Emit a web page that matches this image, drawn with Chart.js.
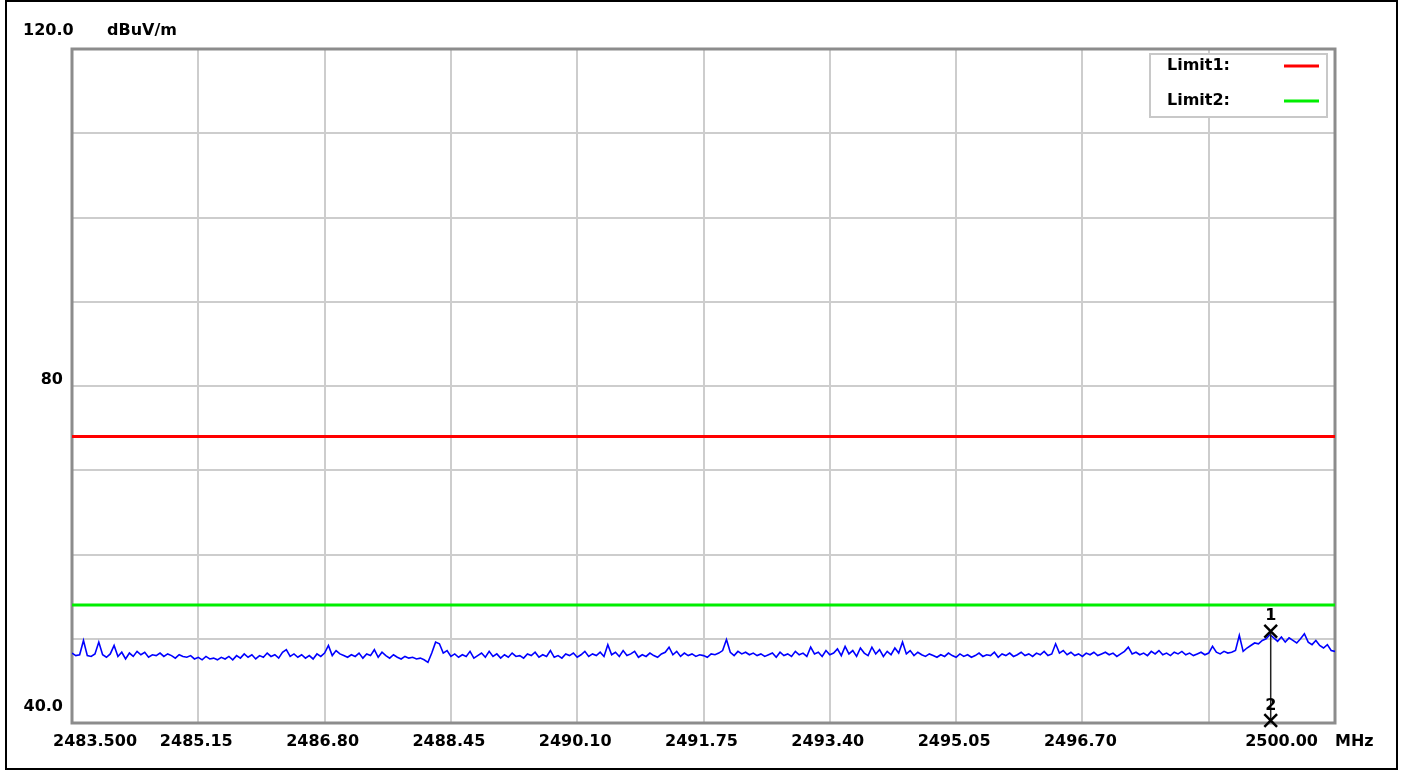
<!DOCTYPE html>
<html><head><meta charset="utf-8">
<script src="https://cdn.jsdelivr.net/npm/chart.js@4.4.0/dist/chart.umd.min.js"></script>
<style>html,body{margin:0;padding:0;background:#fff;}canvas{display:block;}</style>
</head><body><canvas id="c" width="1401" height="771"></canvas>
<script>
// ---- data ----
const freqStart = 2483.5;
const freqStop = 2500.0;
const traceLevel = [
48.3,48.0,48.1,49.8,48.0,47.9,48.2,49.6,48.1,47.8,
48.2,49.2,47.9,48.4,47.6,48.3,47.9,48.5,48.1,48.4,
47.8,48.1,48.0,48.3,47.9,48.2,48.0,47.7,48.1,47.9,
47.8,48.0,47.6,47.8,47.5,47.9,47.6,47.7,47.5,47.8,
47.6,47.9,47.5,48.0,47.7,48.2,47.8,48.1,47.6,48.0,
47.8,48.3,47.9,48.1,47.7,48.4,48.7,47.9,48.2,47.8,
48.1,47.7,48.0,47.6,48.2,47.9,48.3,49.2,48.0,48.6,
48.2,48.0,47.8,48.1,47.9,48.3,47.7,48.2,48.0,48.7,
47.8,48.4,48.0,47.7,48.1,47.8,47.6,47.9,47.7,47.8,
47.6,47.7,47.5,47.2,48.3,49.6,49.4,48.3,48.6,47.9,
48.2,47.8,48.1,47.9,48.5,47.7,48.0,48.3,47.8,48.5,
47.9,48.2,47.7,48.1,47.8,48.3,47.9,48.0,47.7,48.2,
48.0,48.4,47.8,48.1,47.9,48.6,47.8,48.0,47.7,48.2,
48.0,48.3,47.8,48.1,48.5,47.9,48.2,48.0,48.4,47.9,
49.3,48.1,48.4,47.9,48.6,48.0,48.2,48.5,47.8,48.1,
47.9,48.3,48.0,47.8,48.2,48.4,49.0,48.1,48.5,47.9,
48.3,48.0,48.2,47.9,48.1,48.0,47.8,48.2,48.1,48.3,
48.6,49.9,48.4,48.0,48.5,48.2,48.4,48.1,48.3,48.0,
48.2,47.9,48.1,48.3,47.8,48.4,48.0,48.2,47.9,48.5,
48.1,48.3,47.9,49.0,48.2,48.4,47.9,48.6,48.1,48.3,
48.8,48.0,49.1,48.2,48.6,47.9,48.9,48.3,48.0,49.0,
48.2,48.7,47.9,48.5,48.1,48.9,48.3,49.6,48.2,48.6,
48.0,48.4,48.1,47.9,48.2,48.0,47.8,48.1,47.9,48.3,
48.0,47.8,48.2,47.9,48.1,47.8,48.0,48.3,47.9,48.1,
48.0,48.4,47.8,48.2,48.0,48.3,47.9,48.1,48.4,48.0,
48.2,47.9,48.3,48.1,48.5,48.0,48.2,49.4,48.3,48.6,
48.1,48.4,48.0,48.2,47.9,48.3,48.1,48.4,48.0,48.2,
48.4,48.1,48.3,47.9,48.2,48.5,49.0,48.2,48.4,48.1,
48.3,48.0,48.5,48.2,48.6,48.1,48.3,48.0,48.4,48.2,
48.5,48.1,48.3,48.0,48.2,48.4,48.1,48.3,49.1,48.4,
48.2,48.5,48.3,48.4,48.6,50.4,48.5,48.9,49.2,49.5,
49.4,49.8,50.0,50.5,50.1,49.7,50.2,49.6,50.1,49.8,
49.5,50.0,50.6,49.6,49.3,49.8,49.2,48.9,49.3,48.6,
48.5
];
const limit1Level = 74;
const limit2Level = 54;
const markerFreq = 2499.16;
const markerLevels = [50.9, 40.3];
const markerNames = ['1', '2'];
const xTickValues = [2483.5, 2485.15, 2486.8, 2488.45, 2490.1, 2491.75, 2493.4, 2495.05, 2496.7, 2498.35, 2500.0];
const xTickLabels = ['2483.500', '2485.15', '2486.80', '2488.45', '2490.10', '2491.75', '2493.40', '2495.05', '2496.70', '', '2500.00'];
const yTickValues = [40, 50, 60, 70, 80, 90, 100, 110, 120];
const yTickLabels = { 40: '40.0', 80: '80', 120: '120.0' };
const yUnit = 'dBuV/m';
const xUnit = 'MHz';
const legendNames = ['Limit1:', 'Limit2:'];

// ---- build ----
const tracePts = traceLevel.map((v, i) => ({ x: freqStart + i * (freqStop - freqStart) / (traceLevel.length - 1), y: v }));
const FONT = 'bold 16px "DejaVu Sans"';

const decor = {
  id: 'decor',
  beforeDatasetsDraw(chart) {
    const ctx = chart.ctx, a = chart.chartArea;
    ctx.save();
    ctx.strokeStyle = '#8c8c8c'; ctx.lineWidth = 3;
    ctx.strokeRect(a.left, a.top, a.right - a.left, a.bottom - a.top);
    ctx.restore();
  },
  afterDraw(chart) {
    const ctx = chart.ctx, a = chart.chartArea;
    const xs = chart.scales.x, ys = chart.scales.y;
    ctx.save();
    // page border
    ctx.strokeStyle = '#000'; ctx.lineWidth = 2;
    ctx.strokeRect(6, 1, 1391, 768);
    ctx.fillStyle = '#000'; ctx.font = FONT; ctx.textBaseline = 'middle';
    // y labels
    ctx.textAlign = 'left';
    ctx.fillText(yTickLabels[120], 23, 31);
    ctx.fillText(yUnit, 107, 31);
    ctx.textAlign = 'right';
    ctx.fillText(yTickLabels[80], 63, ys.getPixelForValue(80) - 6);
    ctx.fillText(yTickLabels[40], 63, ys.getPixelForValue(40) - 16);
    // x labels
    xTickValues.forEach((v, i) => {
      const lab = xTickLabels[i];
      if (!lab) return;
      const px = xs.getPixelForValue(v);
      if (i === 0) { ctx.textAlign = 'left'; ctx.fillText(lab, 53, 742); }
      else if (i === xTickValues.length - 1) { ctx.textAlign = 'right'; ctx.fillText(lab, px - 17, 742); }
      else { ctx.textAlign = 'center'; ctx.fillText(lab, px - 2, 742); }
    });
    ctx.textAlign = 'left';
    ctx.fillText(xUnit, a.right, 742);
    // marker numbers
    ctx.textAlign = 'center';
    markerLevels.forEach((m, i) => {
      ctx.fillText(markerNames[i], xs.getPixelForValue(markerFreq), ys.getPixelForValue(m) - 15);
    });
    // legend box
    ctx.fillStyle = '#fff';
    ctx.fillRect(1150, 54, 177, 63);
    ctx.strokeStyle = '#c8c8c8'; ctx.lineWidth = 2;
    ctx.strokeRect(1150, 54, 177, 63);
    ctx.fillStyle = '#000'; ctx.textAlign = 'left';
    const cols = ['#ff0000', '#00ee00'];
    [66, 101].forEach((yy, i) => {
      ctx.fillText(legendNames[i], 1167, yy);
      ctx.strokeStyle = cols[i]; ctx.lineWidth = 3;
      ctx.beginPath(); ctx.moveTo(1284, yy); ctx.lineTo(1319, yy); ctx.stroke();
    });
    ctx.restore();
  }
};

new Chart(document.getElementById('c'), {
  type: 'scatter',
  data: {
    datasets: [
      { data: [{ x: markerFreq, y: markerLevels[0] }, { x: markerFreq, y: markerLevels[1] }], pointStyle: 'crossRot', pointRadius: 9, borderColor: '#000', borderWidth: 2.5, showLine: false, clip: false, order: 0 },
      { data: [{ x: markerFreq, y: markerLevels[0] }, { x: markerFreq, y: markerLevels[1] }], borderColor: '#222', borderWidth: 1.5, pointRadius: 0, showLine: true, order: 1 },
      { data: tracePts, borderColor: '#0000ff', borderWidth: 1.6, pointRadius: 0, showLine: true, tension: 0, order: 2 },
      { data: [{ x: freqStart, y: limit1Level }, { x: freqStop, y: limit1Level }], borderColor: '#ff0000', borderWidth: 3, pointRadius: 0, showLine: true, order: 3 },
      { data: [{ x: freqStart, y: limit2Level }, { x: freqStop, y: limit2Level }], borderColor: '#00ee00', borderWidth: 3, pointRadius: 0, showLine: true, order: 3 }
    ]
  },
  options: {
    responsive: false, animation: false, devicePixelRatio: 1,
    layout: { padding: { left: 72, right: 66, top: 49, bottom: 48 } },
    plugins: { legend: { display: false }, tooltip: { enabled: false } },
    scales: {
      x: {
        type: 'linear', min: freqStart, max: freqStop,
        afterBuildTicks: ax => { ax.ticks = xTickValues.map(v => ({ value: v })); },
        ticks: { display: false },
        grid: { color: '#cdcdcd', lineWidth: 2, drawTicks: false },
        border: { display: false }
      },
      y: {
        type: 'linear', min: 40, max: 120,
        afterBuildTicks: ax => { ax.ticks = yTickValues.map(v => ({ value: v })); },
        ticks: { display: false },
        grid: { color: '#cdcdcd', lineWidth: 2, drawTicks: false },
        border: { display: false }
      }
    }
  },
  plugins: [decor]
});
</script></body></html>
